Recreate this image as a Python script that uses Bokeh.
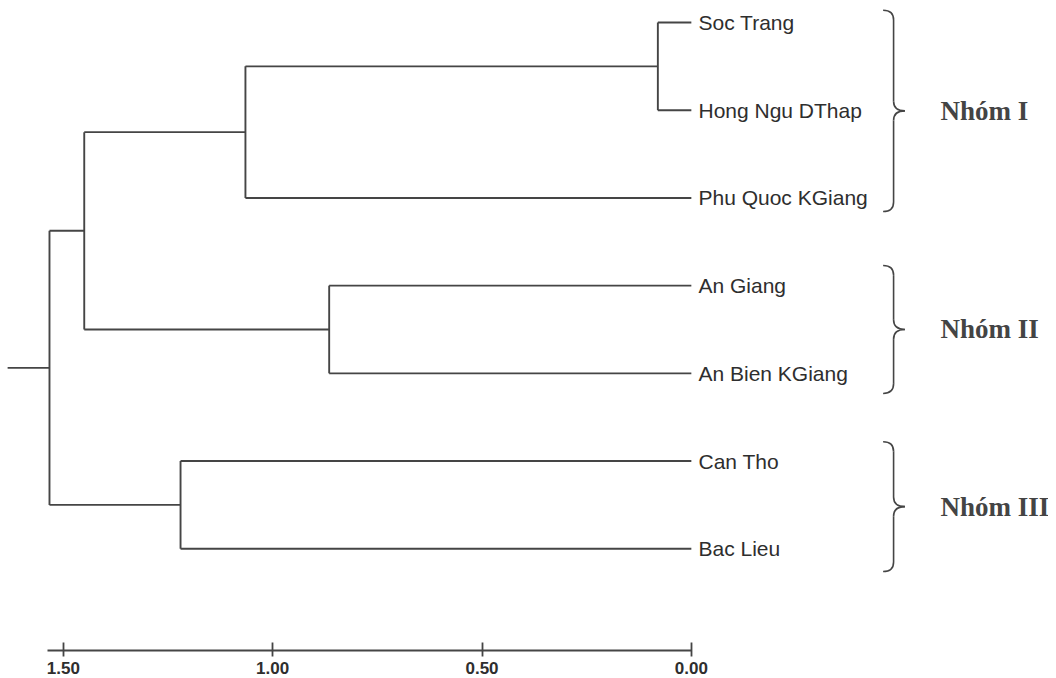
import numpy as np
from bokeh.plotting import figure
from bokeh.models import Range1d, FixedTicker, NumeralTickFormatter, ColumnDataSource
from bokeh.core.properties import value
from bokeh.embed import file_html
from bokeh.resources import INLINE

# ---- data ----
leaves = ["Soc Trang", "Hong Ngu DThap", "Phu Quoc KGiang", "An Giang",
          "An Bien KGiang", "Can Tho", "Bac Lieu"]
# agglomeration steps: node ids 0..6 are leaves, 7.. are merged clusters
merge_left = [0, 7, 3, 8, 5, 10]
merge_right = [1, 2, 4, 9, 6, 11]
merge_height = [0.08, 1.065, 0.865, 1.45, 1.22, 1.533]
groups = ["Nhóm I", "Nhóm II", "Nhóm III"]
group_first = [0, 3, 5]
group_last = [2, 4, 6]
axis_ticks = [1.5, 1.0, 0.5, 0.0]

LINE = "#454545"
TEXT = "#2e2e2e"

# ---- tree geometry ----
n = len(leaves)
node_x = [0.0] * n
node_y = [float(i) for i in range(n)]
x0s, y0s, x1s, y1s = [], [], [], []
for a, b, h in zip(merge_left, merge_right, merge_height):
    ya, yb = node_y[a], node_y[b]
    x0s += [h, h, h]
    y0s += [ya, ya, yb]
    x1s += [h, node_x[a], node_x[b]]
    y1s += [yb, ya, yb]
    node_x.append(h)
    node_y.append((ya + yb) / 2)
# root stem
x0s.append(node_x[-1]); y0s.append(node_y[-1])
x1s.append(node_x[-1] + 0.10); y1s.append(node_y[-1])

p = figure(frame_width=1048, frame_height=650,
           x_range=Range1d(1.650, -0.853), y_range=Range1d(7.160, -0.251),
           output_backend="svg", toolbar_location=None,
           y_axis_location=None, min_border=0)
p.outline_line_color = None
p.xgrid.visible = False
p.ygrid.visible = False
p.background_fill_color = "white"
p.border_fill_color = "white"

p.segment(x0=x0s, y0=y0s, x1=x1s, y1=y1s, line_color=LINE, line_width=1.9)

# leaf labels
p.text(x=[-0.017] * n, y=list(range(n)), text=leaves,
       text_font=value("Liberation Sans"), text_font_size="21px",
       text_baseline="middle", text_align="left", text_color=TEXT)

# braces
pads_top = [0.14, 0.23, 0.22]
pads_bot = [0.155, 0.23, 0.26]
bx0, bx1, bxt, r = -0.458, -0.483, -0.51, 0.11
q = dict(x0=[], y0=[], x1=[], y1=[], cx=[], cy=[])
lx0, ly0, lx1, ly1 = [], [], [], []
mids = []
for f, l, pt, pb in zip(group_first, group_last, pads_top, pads_bot):
    top, bot = f - pt, l + pb
    mid = (top + bot) / 2
    mids.append(mid)
    for (sx, sy, ex, ey, cx, cy) in [
        (bx0, top, bx1, top + r, bx1, top),
        (bx1, mid - r, bxt, mid, bx1, mid),
        (bxt, mid, bx1, mid + r, bx1, mid),
        (bx1, bot - r, bx0, bot, bx1, bot),
    ]:
        q["x0"].append(sx); q["y0"].append(sy)
        q["x1"].append(ex); q["y1"].append(ey)
        q["cx"].append(cx); q["cy"].append(cy)
    lx0 += [bx1, bx1]; ly0 += [top + r, mid + r]
    lx1 += [bx1, bx1]; ly1 += [mid - r, bot - r]
p.quadratic(source=ColumnDataSource(q), x0="x0", y0="y0", x1="x1", y1="y1",
            cx="cx", cy="cy", line_color=LINE, line_width=1.6)
p.segment(x0=lx0, y0=ly0, x1=lx1, y1=ly1, line_color=LINE, line_width=1.6)

p.text(x=[-0.595] * len(groups), y=mids, text=groups,
       text_font=value("Liberation Serif"), text_font_style="bold",
       text_font_size="27px", text_baseline="middle", text_align="left",
       text_color="#444444")

# axis
ax = p.xaxis[0]
ax.ticker = FixedTicker(ticks=axis_ticks)
ax.formatter = NumeralTickFormatter(format="0.00")
ax.bounds = (0.0, 1.538)
ax.axis_line_color = LINE
ax.axis_line_width = 2
ax.major_tick_line_color = LINE
ax.major_tick_line_width = 1.8
ax.major_tick_in = 8
ax.major_tick_out = 6
ax.minor_tick_line_color = None
ax.major_label_standoff = 5
ax.major_label_text_font = "Liberation Sans"
ax.major_label_text_font_style = "bold"
ax.major_label_text_font_size = "17px"
ax.major_label_text_color = TEXT

open("out.html", "w").write(file_html(p, INLINE))
